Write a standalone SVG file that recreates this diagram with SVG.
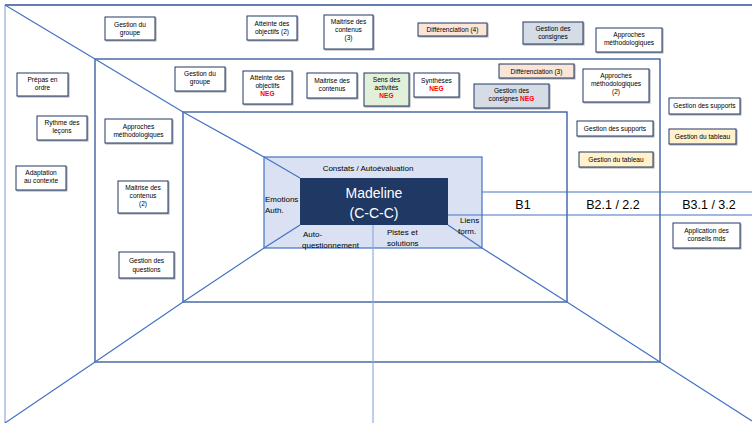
<svg xmlns="http://www.w3.org/2000/svg" width="752" height="423" viewBox="0 0 752 423">
<defs>
<filter id="sh" x="-10%" y="-10%" width="130%" height="140%">
<feDropShadow dx="1" dy="1" stdDeviation="0.6" flood-color="#000" flood-opacity="0.35"/>
</filter>
</defs>
<style>
.frame{fill:none;stroke:#2F5597;stroke-width:1.3}
.ln{fill:none;stroke:#4472C4;stroke-width:1.2}
.lt{fill:none;stroke:#8FAADC;stroke-width:1.2}
.box{fill:#fff;stroke:#203864;stroke-width:1;filter:url(#sh)}
.peach{fill:#FBE5D6}
.grey{fill:#D6DCE5}
.green{fill:#E2F0D9}
.yellow{fill:#FFF2CC}
text{font-family:"Liberation Sans","Noto Sans",sans-serif;fill:#000}
.t{font-size:6.6px;text-anchor:middle}
.neg{fill:#FF0000;font-weight:bold}
.lbl{font-size:8px}
.b{font-size:12.5px;text-anchor:middle}
.mad{font-size:14px;fill:#fff;text-anchor:middle}
</style>
<rect width="752" height="423" fill="#fff"/>
<g id="connectors">
<line class="lt" x1="5" y1="5" x2="5" y2="423"/>
<line class="frame" x1="5" y1="5" x2="752" y2="5"/>
<rect class="frame" x="95" y="59" width="565" height="303"/>
<rect class="frame" x="183" y="112" width="384" height="190"/>
<rect x="264" y="157" width="218" height="91" fill="#D9E1F2" stroke="#4472C4" stroke-width="1.2"/>
<polyline class="ln" points="5,5 95,59 183,112 264,157 300,178"/>
<polyline class="ln" points="300,225 264,248 183,302 95,362 5,423"/>
<polyline class="ln" points="448,225 482,248 567,302 660,362 752,421"/>
<line class="lt" x1="373" y1="225" x2="373" y2="423"/>
<line class="ln" x1="482" y1="192" x2="752" y2="192" stroke-width="1.5"/>
<line class="ln" x1="448" y1="215" x2="752" y2="215" stroke-width="1.5"/>
</g>
<g id="madeline">
<rect x="300" y="178" width="148" height="47" fill="#1F3864"/>
<text class="mad" x="374" y="198">Madeline</text>
<text class="mad" x="374" y="218">(C-C-C)</text>
</g>
<g id="center-labels">
<text class="lbl" x="368" y="171" text-anchor="middle">Constats / Autoévaluation</text>
<text class="lbl" x="265" y="202">Emotions</text>
<text class="lbl" x="265" y="213">Auth.</text>
<text class="lbl" x="303" y="237">Auto-</text>
<text class="lbl" x="302" y="248">questionnement</text>
<text class="lbl" x="387" y="235">Pistes et</text>
<text class="lbl" x="387" y="246">solutions</text>
<text class="lbl" x="460" y="223">Liens</text>
<text class="lbl" x="458" y="234">form.</text>
</g>
<g id="levels">
<text class="b" x="523" y="209">B1</text>
<text class="b" x="613" y="209">B2.1 / 2.2</text>
<text class="b" x="709" y="209">B3.1 / 3.2</text>
</g>
<g id="n1"><rect class="box" x="105" y="17" width="50" height="23"/><text class="t" x="130" y="26.5">Gestion du</text><text class="t" x="130" y="34.5">groupe</text></g>
<g id="n2"><rect class="box" x="247" y="16" width="50" height="24"/><text class="t" x="272" y="25.5">Atteinte des</text><text class="t" x="272" y="33.5">objectifs (2)</text></g>
<g id="n3"><rect class="box" x="324" y="15" width="49" height="34"/><text class="t" x="348.5" y="24">Maitrise des</text><text class="t" x="348.5" y="32">contenus</text><text class="t" x="348.5" y="40">(3)</text></g>
<g id="n4"><rect class="box peach" x="418" y="23" width="69" height="13"/><text class="t" x="452.5" y="31.5">Différenciation (4)</text></g>
<g id="n5"><rect class="box grey" x="523" y="22" width="60" height="22"/><text class="t" x="553" y="30.5">Gestion des</text><text class="t" x="553" y="38.5">consignes</text></g>
<g id="n6"><rect class="box" x="596" y="28" width="66" height="24"/><text class="t" x="629" y="37">Approches</text><text class="t" x="629" y="45">méthodologiques</text></g>
<g id="n7"><rect class="box" x="175" y="67" width="50" height="24"/><text class="t" x="200" y="76">Gestion du</text><text class="t" x="200" y="84">groupe</text></g>
<g id="n8"><rect class="box" x="243" y="71" width="49" height="33"/><text class="t" x="267.5" y="80">Atteinte des</text><text class="t" x="267.5" y="88">objectifs</text><text class="t neg" x="267.5" y="96">NEG</text></g>
<g id="n9"><rect class="box" x="307" y="73" width="50" height="25"/><text class="t" x="332" y="82.5">Maitrise des</text><text class="t" x="332" y="90.5">contenus</text></g>
<g id="n10"><rect class="box green" x="364" y="73" width="45" height="33"/><text class="t" x="386.5" y="82">Sens des</text><text class="t" x="386.5" y="90">activités</text><text class="t neg" x="386.5" y="98">NEG</text></g>
<g id="n11"><rect class="box" x="414" y="73" width="45" height="24"/><text class="t" x="436.5" y="82.5">Synthèses</text><text class="t neg" x="436.5" y="90.5">NEG</text></g>
<g id="n12"><rect class="box peach" x="499" y="64" width="75" height="14"/><text class="t" x="536.5" y="73.5">Différenciation (3)</text></g>
<g id="n13"><rect class="box grey" x="474" y="84" width="75" height="24"/><text class="t" x="511.5" y="93">Gestion des</text><text class="t" x="511.5" y="101">consignes <tspan class="neg">NEG</tspan></text></g>
<g id="n14"><rect class="box" x="583" y="69" width="66" height="33"/><text class="t" x="616" y="78">Approches</text><text class="t" x="616" y="86">méthodologiques</text><text class="t" x="616" y="94">(2)</text></g>
<g id="n15"><rect class="box" x="577" y="121" width="76" height="15"/><text class="t" x="615" y="130.5">Gestion des supports</text></g>
<g id="n16"><rect class="box yellow" x="579" y="152" width="74" height="15"/><text class="t" x="616" y="161.5">Gestion du tableau</text></g>
<g id="n17"><rect class="box" x="669" y="98" width="71" height="16"/><text class="t" x="704.5" y="108">Gestion des supports</text></g>
<g id="n18"><rect class="box yellow" x="669" y="129" width="67" height="15"/><text class="t" x="702.5" y="138.5">Gestion du tableau</text></g>
<g id="n19"><rect class="box" x="17" y="73" width="51" height="23"/><text class="t" x="42.5" y="82">Prépas en</text><text class="t" x="42.5" y="90">ordre</text></g>
<g id="n20"><rect class="box" x="37" y="116" width="50" height="24"/><text class="t" x="62" y="125">Rythme des</text><text class="t" x="62" y="133">leçons</text></g>
<g id="n21"><rect class="box" x="16" y="166" width="50" height="24"/><text class="t" x="41" y="175">Adaptation</text><text class="t" x="41" y="183">au contexte</text></g>
<g id="n22"><rect class="box" x="105" y="119" width="67" height="24"/><text class="t" x="138.5" y="128.5">Approches</text><text class="t" x="138.5" y="136.5">méthodologiques</text></g>
<g id="n23"><rect class="box" x="118" y="181" width="50" height="32"/><text class="t" x="143" y="190">Maitrise des</text><text class="t" x="143" y="198">contenus</text><text class="t" x="143" y="206">(2)</text></g>
<g id="n24"><rect class="box" x="119" y="252" width="55" height="26"/><text class="t" x="146.5" y="263" font-size="7.5">Gestion  des</text><text class="t" x="146.5" y="272" font-size="7.5">questions</text></g>
<g id="n25"><rect class="box" x="673" y="223" width="67" height="25"/><text class="t" x="706.5" y="232.5">Application des</text><text class="t" x="706.5" y="240.5">conseils mds</text></g>
</svg>
